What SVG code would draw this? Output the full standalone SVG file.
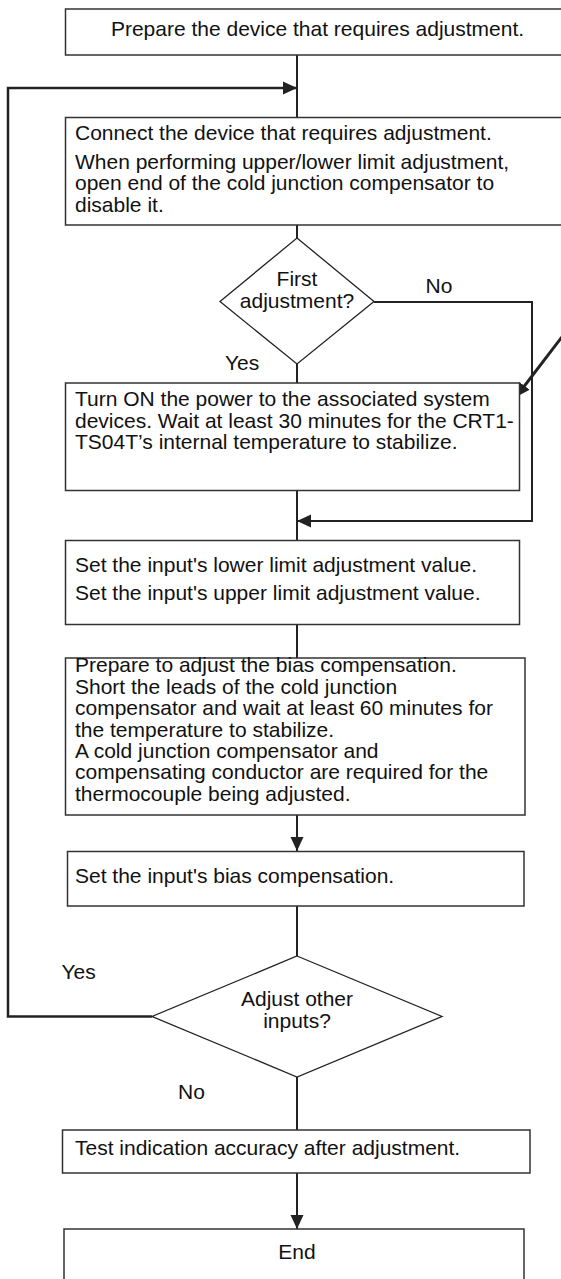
<svg xmlns="http://www.w3.org/2000/svg" width="561" height="1279" viewBox="0 0 561 1279">
<defs>
<style>
.box{fill:#fff;stroke:#333;stroke-width:1.5}
.dia{fill:#fff;stroke:#222;stroke-width:1.3}
.ln{fill:none;stroke:#222;stroke-width:2}
.thick{fill:none;stroke:#222;stroke-width:2.5}
text{font-family:"Liberation Sans",Arial,Helvetica,sans-serif;font-size:21px;fill:#111}
.c{text-anchor:middle}
</style>
<marker id="ah" markerUnits="userSpaceOnUse" markerWidth="15" markerHeight="15" refX="14" refY="7" orient="auto">
<path d="M0,0.5 L14,7 L0,13.5 z" fill="#222"/>
</marker>
</defs>
<rect width="561" height="1279" fill="#fff"/>
<g id="connectors">
<line class="ln" x1="297" y1="55" x2="297" y2="118"/>
<polyline class="thick" points="152,1016.5 8,1016.5 8,88 297,88" marker-end="url(#ah)"/>
<line class="ln" x1="297" y1="225" x2="297" y2="238"/>
<polyline class="ln" points="374,302 532,302 532,521 297,521" marker-end="url(#ah)"/>
<line class="ln" x1="297" y1="364" x2="297" y2="383"/>
<line class="ln" x1="297" y1="490" x2="297" y2="541"/>
<line class="ln" x1="297" y1="624" x2="297" y2="658"/>
<line class="ln" x1="297" y1="815" x2="297" y2="851" marker-end="url(#ah)"/>
<line class="ln" x1="297" y1="906" x2="297" y2="956"/>
<line class="ln" x1="297" y1="1077" x2="297" y2="1130"/>
<line class="ln" x1="297" y1="1173" x2="297" y2="1229" marker-end="url(#ah)"/>
<line x1="568" y1="329" x2="516" y2="397" stroke="#222" stroke-width="3" marker-end="url(#ah)"/>
<text x="425.5" y="293">No</text>
<text x="225" y="370">Yes</text>
<text x="61.5" y="979">Yes</text>
<text x="178" y="1099">No</text>
</g>
<g id="n1">
<rect class="box" x="65.5" y="9" width="505" height="46"/>
<text class="c" x="317.5" y="36">Prepare the device that requires adjustment.</text>
</g>
<g id="n2">
<rect class="box" x="65.5" y="117.5" width="505" height="107.5"/>
<text x="75" y="139.5">Connect the device that requires adjustment.</text>
<text x="75" y="168.5">When performing upper/lower limit adjustment,</text>
<text x="75" y="190">open end of the cold junction compensator to</text>
<text x="75" y="211.5">disable it.</text>
</g>
<g id="d1">
<polygon class="dia" points="297,238 374,301.5 297,364 220,301.5"/>
<text class="c" x="297" y="286">First</text>
<text class="c" x="297" y="307.5">adjustment?</text>
</g>
<g id="n3">
<rect class="box" x="65.5" y="383" width="454" height="107.5"/>
<text x="75" y="406">Turn ON the power to the associated system</text>
<text x="75" y="427.5">devices. Wait at least 30 minutes for the CRT1-</text>
<text x="75" y="448.5">TS04T’s internal temperature to stabilize.</text>
</g>
<g id="n4">
<rect class="box" x="65.5" y="540.5" width="454" height="84"/>
<text x="75" y="571.5">Set the input's lower limit adjustment value.</text>
<text x="75" y="599.5">Set the input's upper limit adjustment value.</text>
</g>
<g id="n5">
<rect class="box" x="65.5" y="658" width="459.5" height="157"/>
<text x="75" y="672">Prepare to adjust the bias compensation.</text>
<text x="75" y="693.5">Short the leads of the cold junction</text>
<text x="75" y="715">compensator and wait at least 60 minutes for</text>
<text x="75" y="736.5">the temperature to stabilize.</text>
<text x="75" y="758">A cold junction compensator and</text>
<text x="75" y="779">compensating conductor are required for the</text>
<text x="75" y="800.5">thermocouple being adjusted.</text>
</g>
<g id="n6">
<rect class="box" x="67.5" y="851.5" width="456.5" height="54.5"/>
<text x="75" y="883">Set the input's bias compensation.</text>
</g>
<g id="d2">
<polygon class="dia" points="297,956 442,1016.5 297,1077 152,1016.5"/>
<text class="c" x="297" y="1005.5">Adjust other</text>
<text class="c" x="297" y="1027.5">inputs?</text>
</g>
<g id="n7">
<rect class="box" x="62.5" y="1130" width="467.5" height="43"/>
<text x="75" y="1154.5">Test indication accuracy after adjustment.</text>
</g>
<g id="n8">
<rect class="box" x="64" y="1229" width="460" height="60"/>
<text class="c" x="297" y="1259">End</text>
</g>
</svg>
